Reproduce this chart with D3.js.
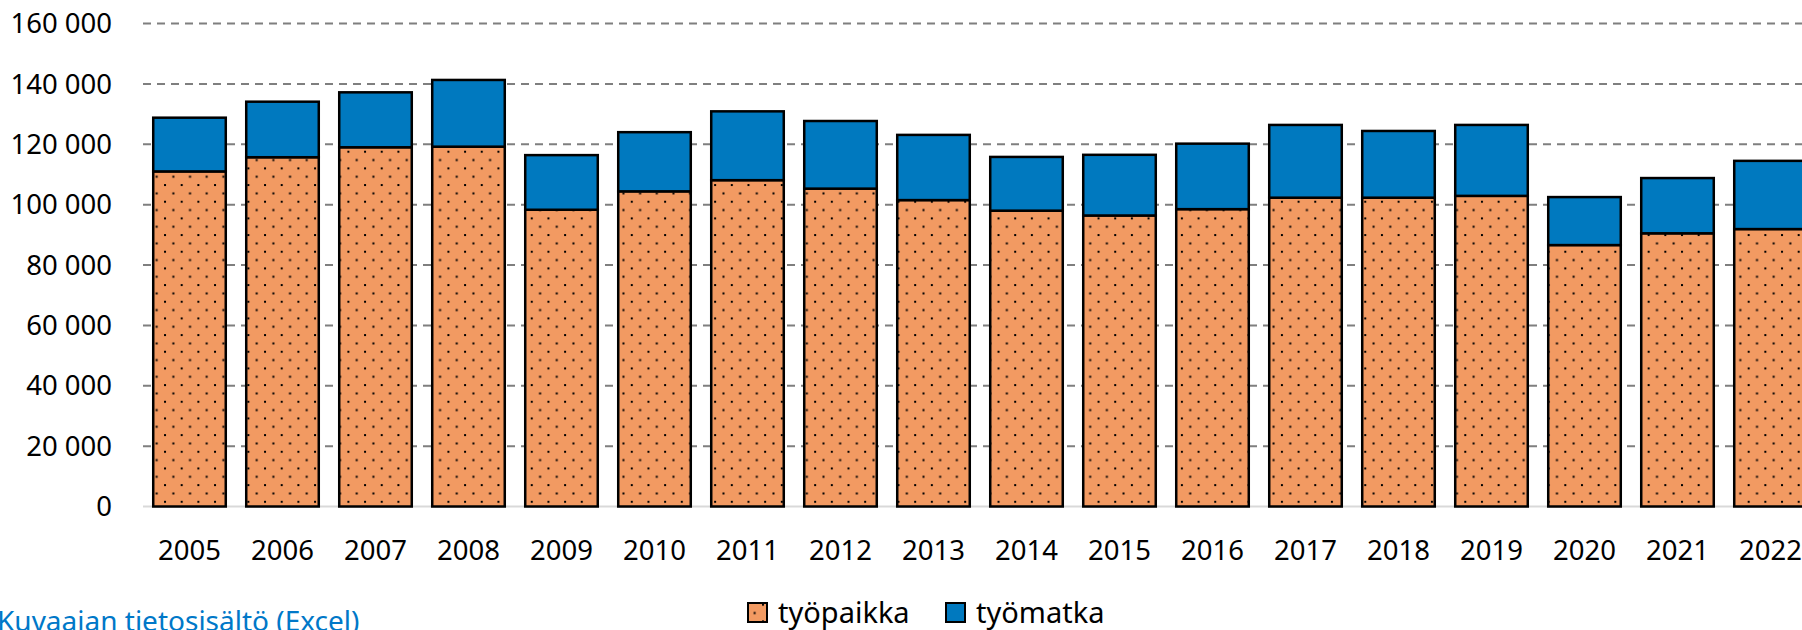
<!DOCTYPE html>
<html lang="fi">
<head>
<meta charset="utf-8">
<script src="https://cdn.jsdelivr.net/npm/d3@7"></script>
<style>
  html, body { margin: 0; padding: 0; background: #fff; overflow: hidden; }
  text { font-family: "Noto Sans", "Open Sans", sans-serif; }
</style>
</head>
<body>
<div class="container"></div>
<script>
// DATA
const years = ["2005", "2006", "2007", "2008", "2009", "2010", "2011", "2012", "2013",
               "2014", "2015", "2016", "2017", "2018", "2019", "2020", "2021", "2022"];
const tyopaikka = [111000, 115700, 119000, 119200, 98300, 104400, 108100, 105300, 101500,
                   98000, 96400, 98500, 102300, 102300, 102900, 86600, 90500, 91900];
const tyomatka = [17800, 18400, 18200, 22100, 18100, 19600, 22800, 22400, 21600,
                  17800, 20100, 21700, 24100, 22100, 23500, 15900, 18300, 22600];
const seriesNames = ["työpaikka", "työmatka"];
const yTicks = [0, 20000, 40000, 60000, 80000, 100000, 120000, 140000, 160000];
const linkText = "Kuvaajan tietosisältö (Excel)";

// SETUP
const width = 1802;
const height = 630;

const orange = "#f29a62";
const blue = "#0079bf";

const svg = d3.select(".container")
  .append("svg")
  .attr("width", width)
  .attr("height", height);

// dotted fill for the orange series
const defs = svg.append("defs");
const pat = defs.append("pattern")
  .attr("id", "dots")
  .attr("patternUnits", "userSpaceOnUse")
  .attr("x", 14)
  .attr("y", 0.7)
  .attr("width", 16.67)
  .attr("height", 16.67);
pat.append("rect").attr("width", 16.67).attr("height", 16.67).attr("fill", orange);
pat.append("rect").attr("x", 0).attr("y", 0).attr("width", 2).attr("height", 2).attr("fill", "#000");
pat.append("rect").attr("x", 8.33).attr("y", 8.33).attr("width", 2).attr("height", 2).attr("fill", "#000");

// SCALES
const xScale = d3.scaleBand()
  .domain(years)
  .range([143, 1817])
  .paddingInner(0.22)
  .paddingOuter(0.11);

const yScale = d3.scaleLinear()
  .domain([0, 160000])
  .range([506.5, 23.5]);

// GRIDLINES (dashed), zero line solid
svg.append("g")
  .selectAll("line")
  .data(yTicks.filter(d => d > 0))
  .join("line")
  .attr("x1", 143)
  .attr("x2", width)
  .attr("y1", d => yScale(d))
  .attr("y2", d => yScale(d))
  .attr("stroke", "#7f7f7f")
  .attr("stroke-width", 2)
  .attr("stroke-dasharray", "8,6");

svg.append("line")
  .attr("x1", 143)
  .attr("x2", width)
  .attr("y1", yScale(0))
  .attr("y2", yScale(0))
  .attr("stroke", "#d9d9d9")
  .attr("stroke-width", 2);

// Y LABELS
svg.append("g")
  .selectAll("text")
  .data(yTicks)
  .join("text")
  .attr("x", 112)
  .attr("y", d => yScale(d))
  .attr("dy", "0.35em")
  .attr("text-anchor", "end")
  .attr("font-size", 27.5)
  .attr("fill", "#000")
  .text(d => d3.format(",")(d).replace(/,/g, " "));

// STACKED BARS
const rows = years.map((y, i) => ({ year: y, a: tyopaikka[i], b: tyomatka[i] }));
const stack = d3.stack().keys(["a", "b"])(rows);

svg.append("g")
  .selectAll("g")
  .data(stack)
  .join("g")
  .attr("fill", (d, i) => i === 0 ? "url(#dots)" : blue)
  .selectAll("rect")
  .data(d => d)
  .join("rect")
  .attr("x", d => xScale(d.data.year))
  .attr("width", xScale.bandwidth())
  .attr("y", d => yScale(d[1]))
  .attr("height", d => yScale(d[0]) - yScale(d[1]))
  .attr("stroke", "#000")
  .attr("stroke-width", 2.5);

// X LABELS
svg.append("g")
  .selectAll("text")
  .data(years)
  .join("text")
  .attr("x", d => xScale(d) + xScale.bandwidth() / 2)
  .attr("y", 560)
  .attr("text-anchor", "middle")
  .attr("font-size", 27.5)
  .attr("fill", "#000")
  .text(d => d);

// LEGEND
const legendX = [748, 946];
const legend = svg.append("g")
  .selectAll("g")
  .data(seriesNames)
  .join("g")
  .attr("transform", (d, i) => `translate(${legendX[i]},603)`);

legend.append("rect")
  .attr("width", 19)
  .attr("height", 19)
  .attr("fill", (d, i) => i === 0 ? "url(#dots)" : blue)
  .attr("stroke", "#000")
  .attr("stroke-width", 2);

legend.append("text")
  .attr("x", 30)
  .attr("y", 20)
  .attr("font-size", 29)
  .attr("fill", "#000")
  .text(d => d);

// LINK TEXT (cut by the bottom edge, as in the source)
svg.append("text")
  .attr("x", -3)
  .attr("y", 631)
  .attr("font-size", 28)
  .attr("fill", "#0078c8")
  .text(linkText);
</script>
</body>
</html>
